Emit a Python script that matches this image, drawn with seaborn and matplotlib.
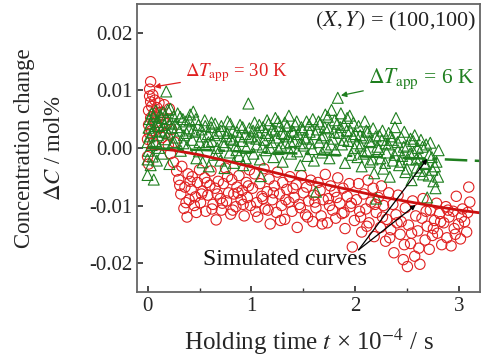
import matplotlib
matplotlib.use("Agg")
import matplotlib.pyplot as plt
from matplotlib.ticker import MultipleLocator
import numpy as np
import seaborn as sns

# -- measured data (t in 1e4 s, dC in 1e-3 mol%)
red_t = [0.00, 0.01, 0.01, 0.02, 0.03, 0.02, 0.03, 0.00, 0.01, 0.02, 0.03, 0.04, 0.04, 0.05, 0.05, 0.06, 0.07,
         0.08, 0.09, 0.10, 0.11, 0.12, 0.13, 0.14, 0.15, 0.16, 0.17, 0.18, 0.20, 0.21, 0.22, 0.23, 0.25, 0.26, 0.28,
         0.30, 0.32, 0.33, 0.35, 0.36, 0.38, 0.39, 0.40, 0.42, 0.43, 0.45, 0.46, 0.48, 0.50, 0.51, 0.53, 0.55, 0.56,
         0.58, 0.60, 0.61, 0.63, 0.65, 0.66, 0.68, 0.70, 0.71, 0.73, 0.75, 0.76, 0.78, 0.80, 0.81, 0.83, 0.85, 0.86,
         0.88, 0.90, 0.91, 0.93, 0.95, 0.96, 0.98, 0.99,
         1.01, 1.03, 1.05, 1.06, 1.08, 1.10, 1.12, 1.13, 1.15, 1.17, 1.18, 1.20, 1.22, 1.24, 1.25, 1.27, 1.29, 1.30,
         1.32, 1.34, 1.36, 1.37, 1.39, 1.41, 1.43, 1.44, 1.46, 1.48, 1.50, 1.52, 1.53, 1.55, 1.57, 1.59, 1.60, 1.62,
         1.64, 1.66, 1.67, 1.69, 1.71, 1.73, 1.74, 1.76, 1.78, 1.80, 1.81, 1.83, 1.85, 1.87, 1.88, 1.90, 1.92, 1.94,
         1.95, 1.97, 1.99,
         2.01, 2.03, 2.05, 2.06, 2.08, 2.10, 2.12, 2.13, 2.15, 2.17, 2.18, 2.20, 2.22, 2.24, 2.25, 2.27, 2.29, 2.30,
         2.32, 2.34, 2.36, 2.37, 2.39, 2.41, 2.43, 2.44, 2.46, 2.48, 2.50, 2.51, 2.53, 2.55, 2.57, 2.58, 2.60, 2.62,
         2.64, 2.65, 2.67, 2.69, 2.71, 2.72, 2.74, 2.76, 2.78, 2.79, 2.81, 2.83, 2.85, 2.87, 2.88, 2.90, 2.92, 2.94,
         2.95, 2.97, 2.99, 3.01, 3.03, 3.05, 3.07, 3.09, 3.10]
red_dc = [1.5, 4.0, 6.5, 9.0, 11.5, 10.2, 8.0, -1.5, -2.8, 2.5, 5.2, 7.2, 3.0, 9.2, 0.8, 6.0, 8.3,
          4.5, 7.0, 5.5, 7.8, 3.5, 6.2, 1.8, 5.0, 7.5, 2.5, 4.2, 0.5, 6.8, -1.0, 3.2, -2.5, 1.0, -4.0,
          -5.5, -8.0, -3.2, -10.5, -6.8, -12.0, -4.5, -9.0, -7.2, -5.0, -10.0, -8.5, -6.0, -3.8, -9.5, -7.5, -5.2, -11.0,
          -8.2, -6.5, -4.0, -9.8, -7.0, -12.5, -5.8, -8.8, -10.8, -6.2, -3.5, -9.2, -7.8, -11.5, -5.5, -8.0, -10.2, -6.8,
          -4.8, -9.0, -7.4, -11.8, -6.0, -8.6, -3.8, -10.0,
          -7.0, -4.5, -9.5, -12.0, -6.2, -8.4, -3.6, -10.6, -7.6, -5.4, -13.2, -9.0, -6.6, -11.2, -4.2, -8.0, -10.0, -6.0,
          -12.4, -7.2, -9.4, -5.0, -11.0, -8.6, -6.4, -13.8, -9.8, -4.8, -7.8, -11.6, -6.8, -9.2, -5.6, -12.8, -8.2, -10.4,
          -6.0, -7.4, -11.8, -9.0, -4.6, -13.0, -8.8, -6.6, -10.8, -7.6, -12.2, -5.2, -9.6, -11.4, -7.0, -14.0, -8.4, -6.2,
          -10.2, -17.2, -12.6,
          -9.0, -6.2, -12.0, -14.6, -8.0, -10.6, -5.6, -13.0, -9.4, -7.0, -15.4, -11.2, -8.6, -13.8, -6.6, -10.0, -16.2, -12.4,
          -7.8, -14.2, -9.8, -18.2, -11.6, -8.2, -15.0, -12.8, -19.4, -10.4, -20.6, -13.4, -16.6, -9.2, -18.8, -11.8, -14.4, -20.2,
          -12.2, -8.8, -16.0, -13.6, -17.6, -10.8, -15.2, -12.6, -9.6, -14.8, -11.4, -16.8, -13.0, -10.2, -15.6, -12.0, -17.0, -11.0,
          -14.0, -8.4, -13.2, -15.8, -10.6, -12.8, -14.6, -6.8, -9.4]
# second batch of red points (same run, interleaved times)
red_t_b = [0.31, 0.37, 0.41, 0.47, 0.52, 0.57, 0.62, 0.67, 0.72, 0.77, 0.82, 0.87, 0.92, 0.97,
           1.04, 1.11, 1.16, 1.21, 1.28, 1.33, 1.40, 1.47, 1.54, 1.61, 1.68, 1.75, 1.82, 1.89, 1.96,
           2.04, 2.11, 2.19, 2.26, 2.33, 2.40, 2.47, 2.54, 2.61, 2.68, 2.75, 2.82, 2.89, 2.96, 3.02, 3.08]
red_dc_b = [-6.5, -9.5, -5.8, -11.2, -8.0, -6.0, -10.6, -8.0, -9.6, -5.0, -10.8, -7.8, -9.8, -6.6,
            -11.0, -8.8, -10.8, -7.8, -12.6, -9.0, -7.0, -10.4, -12.0, -9.4, -13.2, -10.0, -8.6, -11.2, -9.6,
            -11.0, -13.6, -9.8, -12.0, -15.6, -13.0, -16.8, -14.8, -17.4, -11.0, -14.0, -12.8, -10.8, -15.0, -12.0, -11.2]

green_t = [0.00, 0.00, 0.00, 0.01, 0.01, 0.02, 0.02, 0.03, 0.03, 0.04, 0.04, 0.05, 0.05, 0.06, 0.06, 0.07, 0.08,
           0.08, 0.09, 0.10, 0.10, 0.11, 0.12, 0.13, 0.14, 0.15, 0.16, 0.17, 0.18, 0.19, 0.20, 0.21, 0.22, 0.23, 0.24,
           0.25, 0.27, 0.28, 0.29, 0.31, 0.32, 0.34, 0.35, 0.37, 0.38, 0.40, 0.41, 0.43, 0.44, 0.46, 0.47, 0.49, 0.50,
           0.52, 0.53, 0.55, 0.56, 0.58, 0.59, 0.61, 0.62, 0.64, 0.65, 0.67, 0.68, 0.70, 0.71, 0.73, 0.74, 0.76, 0.77,
           0.79, 0.80, 0.82, 0.83, 0.85, 0.86, 0.88, 0.89, 0.91, 0.92, 0.94, 0.95, 0.97, 0.98,
           1.00, 1.02, 1.03, 1.05, 1.06, 1.08, 1.09, 1.11, 1.12, 1.14, 1.15, 1.17, 1.18, 1.20, 1.21, 1.23, 1.24, 1.26,
           1.27, 1.29, 1.30, 1.32, 1.33, 1.35, 1.36, 1.38, 1.39, 1.41, 1.42, 1.44, 1.45, 1.47, 1.48, 1.50, 1.51, 1.53,
           1.54, 1.56, 1.57, 1.59, 1.60, 1.62, 1.63, 1.65, 1.66, 1.68, 1.69, 1.71, 1.72, 1.74, 1.75, 1.77, 1.78, 1.80,
           1.81, 1.83, 1.84, 1.86, 1.87, 1.89, 1.90, 1.92, 1.93, 1.95, 1.96, 1.98, 1.99,
           2.00, 2.02, 2.03, 2.05, 2.06, 2.08, 2.09, 2.11, 2.12, 2.14, 2.15, 2.17, 2.18, 2.20, 2.21, 2.23, 2.24, 2.26,
           2.27, 2.29, 2.30, 2.32, 2.33, 2.35, 2.36, 2.38, 2.39, 2.41, 2.42, 2.44, 2.45, 2.47, 2.48, 2.50, 2.51, 2.53,
           2.54, 2.56, 2.57, 2.59, 2.60, 2.62, 2.63, 2.65, 2.66, 2.68, 2.69, 2.71, 2.72, 2.74, 2.75, 2.77, 2.78, 2.80]
green_dc = [-4.7, -2.0, 1.0, 3.5, -0.5, 5.0, 2.0, -3.0, 4.2, 0.5, 6.0, -1.5, 2.8, 5.5, -5.5, 3.8, 1.2,
            6.5, -2.2, 4.5, 2.2, 0.0, 5.8, 3.0, -1.0, 6.2, 4.0, 1.5, 9.8, 5.0, 2.5, -2.8, 6.8, 3.5, 0.8,
            5.5, 4.2, 1.8, 6.0, 3.0, -0.5, 5.0, 2.2, 4.6, 0.2, 3.4, 5.8, 1.4, 6.3, 2.8, -1.8, 4.0, 1.0,
            3.2, -2.5, 4.8, 0.6, 2.4, -3.2, 3.6, 1.2, -1.2, 4.2, 0.0, 2.6, -2.2, 3.8, 1.0, -3.5, 2.0, 4.6,
            -0.8, 1.6, 3.0, -2.6, 0.4, 2.8, -1.4, 4.0, 1.2, -3.0, 2.4, 0.0, 7.7, 3.4,
            2.0, -1.0, 4.4, 0.6, 2.8, -2.0, -4.9, 3.6, 1.4, -0.4, 4.8, 2.2, 0.0, 3.2, -1.6, 5.2, 1.8, -0.2,
            3.8, 2.6, -2.4, 4.4, 0.8, 2.0, 5.6, -1.0, 3.0, 1.2, 4.0, -0.6, 2.4, -3.0, 3.6, 0.4, 1.8, 4.6,
            -1.4, 2.8, 0.8, 5.0, -2.2, -7.6, 3.2, 1.0, 4.2, -0.8, 2.2, 5.8, 0.2, 3.4, -1.8, 6.6, 1.6, 4.8,
            -0.4, 8.7, 2.6, 6.0, 0.6, 4.0, -2.6, 5.2, 1.2, 3.0, -1.2, 4.4, 0.0,
            2.4, -1.6, 3.8, 0.4, -3.2, 1.8, 4.6, -0.6, 2.8, -2.4, 1.0, 3.4, -4.4, -8.8, 0.2, 2.2, -1.8, 3.0,
            -3.6, 0.8, -0.8, 2.6, -5.0, 1.4, -2.2, 3.6, 5.2, -0.4, -3.0, 1.8, -1.4, 2.8, -4.2, 0.4, -2.0, 1.6,
            -5.6, -0.8, 2.2, -3.4, 0.0, -1.8, 1.4, -4.6, -2.6, 0.6, -8.6, -1.2, 0.9, -3.8, -5.8, -7.0, -2.4, -0.4]
# second batch of green points
green_t_b = [0.105, 0.135, 0.165, 0.195, 0.225, 0.255, 0.285, 0.315, 0.345, 0.375, 0.405, 0.435, 0.465, 0.495,
             0.525, 0.555, 0.585, 0.615, 0.645, 0.675, 0.705, 0.735, 0.765, 0.795, 0.825, 0.855, 0.885, 0.915,
             0.945, 0.975,
             1.015, 1.045, 1.075, 1.105, 1.135, 1.165, 1.195, 1.225, 1.255, 1.285, 1.315, 1.345, 1.375, 1.405,
             1.435, 1.465, 1.495, 1.525, 1.555, 1.585, 1.615, 1.645, 1.675, 1.705, 1.735, 1.765, 1.795, 1.825,
             1.855, 1.885, 1.915, 1.945, 1.975,
             2.015, 2.045, 2.075, 2.105, 2.135, 2.165, 2.195, 2.225, 2.255, 2.285, 2.315, 2.345, 2.375, 2.405,
             2.435, 2.465, 2.495, 2.525, 2.555, 2.585, 2.615, 2.645, 2.675, 2.705, 2.735, 2.765, 2.795]
green_dc_b = [3.8, 5.2, 2.8, 6.6, 4.4, 1.0, 3.6, 5.4, 0.8, 2.6, 4.8, 3.0, 5.0, -0.6,
              2.0, 3.8, 1.0, 4.4, 2.2, -1.0, 3.0, 0.4, 2.6, 4.2, 1.4, -0.4, 2.0, 3.6,
              -1.8, 1.8,
              3.0, 1.6, 4.0, 0.2, 2.6, 4.2, 1.0, 3.0, 4.6, 0.4, 2.4, 3.8, 1.0, 2.8,
              4.6, 0.8, 3.2, 1.6, 4.0, -0.2, 2.4, 4.6, 1.8, 3.6, 5.4, 0.6, 2.8, 4.2,
              3.6, 1.4, 3.0, 5.6, 2.0,
              0.8, 2.2, -1.0, 3.0, 1.2, -2.0, 2.0, -0.2, 1.4, -2.6, 0.6, 2.0, -1.2, 1.0,
              -2.4, 0.2, -3.6, -1.0, 1.2, -2.0, -4.0, 0.2, -2.8, -4.8, -1.6, -3.2, -5.0]

# -- simulated curves
sim_t = [0, 0.25, 0.5, 0.75, 1.0, 1.25, 1.5, 1.75, 2.0, 2.25, 2.5, 2.75, 3.0, 3.25]
sim_red = [0, -0.4, -1.2, -2.2, -3.3, -4.4, -5.5, -6.5, -7.5, -8.5, -9.3, -10.1, -10.8, -11.4]
sim_green = [0, -0.2, -0.35, -0.5, -0.7, -0.85, -1.0, -1.2, -1.4, -1.6, -1.75, -1.9, -2.1, -2.3]

sns.set_theme(style="ticks")
plt.rcParams["font.family"] = ["Liberation Serif", "DejaVu Serif"]
plt.rcParams["mathtext.fontset"] = "stix"
plt.rcParams["axes.unicode_minus"] = False

RED = "#e02020"
GREEN = "#1f7f1f"

fig = plt.figure(figsize=(4.88, 3.56), dpi=100)
ax = fig.add_axes([0.281, 0.180, 0.703, 0.809])

sns.scatterplot(x=red_t + red_t_b, y=np.array(red_dc + red_dc_b) * 1e-3, ax=ax, marker="o", s=55,
                facecolors="none", edgecolor=RED, linewidth=0.8)
sns.scatterplot(x=green_t + green_t_b, y=np.array(green_dc + green_dc_b) * 1e-3, ax=ax, marker="^", s=62,
                facecolors="none", edgecolor=GREEN, linewidth=0.8)
sns.lineplot(x=sim_t, y=np.array(sim_red) * 1e-3, ax=ax, color="#cc1010", lw=2)
sns.lineplot(x=sim_t, y=np.array(sim_green) * 1e-3, ax=ax, color=GREEN, lw=1.8,
             linestyle=(0, (9, 3, 2, 3)))

ax.set_xlim(-0.1, 3.2)
ax.set_ylim(-0.025, 0.025)
ax.xaxis.set_major_locator(MultipleLocator(1))
ax.xaxis.set_minor_locator(MultipleLocator(0.5))
ax.set_yticks([-0.02, -0.01, 0.0, 0.01, 0.02])
ax.set_yticklabels(["-0.02", "-0.01", "0.00", "0.01", "0.02"])
ax.tick_params(direction="in", which="both", labelsize=15, color="#333333")
ax.tick_params(which="major", length=4)
ax.tick_params(which="minor", length=3)
for s in ax.spines.values():
    s.set_color("#666666")
    s.set_linewidth(1.3)

ax.set_xlabel("Holding time $t$ \u00d7 10$^{-4}$ / s", fontsize=18, labelpad=8)
ax.set_ylabel("Concentration change\n$\\Delta C$ / mol%", fontsize=16.5, labelpad=17,
              linespacing=1.6)

ax.text(0.988, 0.94, "$(X,Y)$ = (100,100)", transform=ax.transAxes, ha="right",
        va="center", fontsize=16, color="#222222")
ax.annotate("$\\Delta T_{\\mathrm{app}}$ = 30 K", xy=(0.065, 0.0106), xytext=(0.36, 0.0130),
            color=RED, fontsize=13.5, va="center",
            arrowprops=dict(arrowstyle="-|>", color=RED, lw=0.9, mutation_scale=8,
                            shrinkA=1, shrinkB=0))
ax.annotate("$\\Delta T_{\\mathrm{app}}$ = 6 K", xy=(1.86, 0.0091), xytext=(2.12, 0.0120),
            color=GREEN, fontsize=15.5, va="center",
            arrowprops=dict(arrowstyle="-|>", color=GREEN, lw=0.9, mutation_scale=8,
                            shrinkA=1, shrinkB=0))
ax.text(0.53, -0.0193, "Simulated curves", fontsize=17, va="center", color="#111111")
for tip in [(2.69, -0.0019), (2.58, -0.0099)]:
    ax.annotate("", xy=tip, xytext=(2.03, -0.0177),
                arrowprops=dict(arrowstyle="-|>", color="black", lw=0.9, mutation_scale=7,
                                shrinkA=0, shrinkB=0))

fig.savefig("out.png", dpi=100)
